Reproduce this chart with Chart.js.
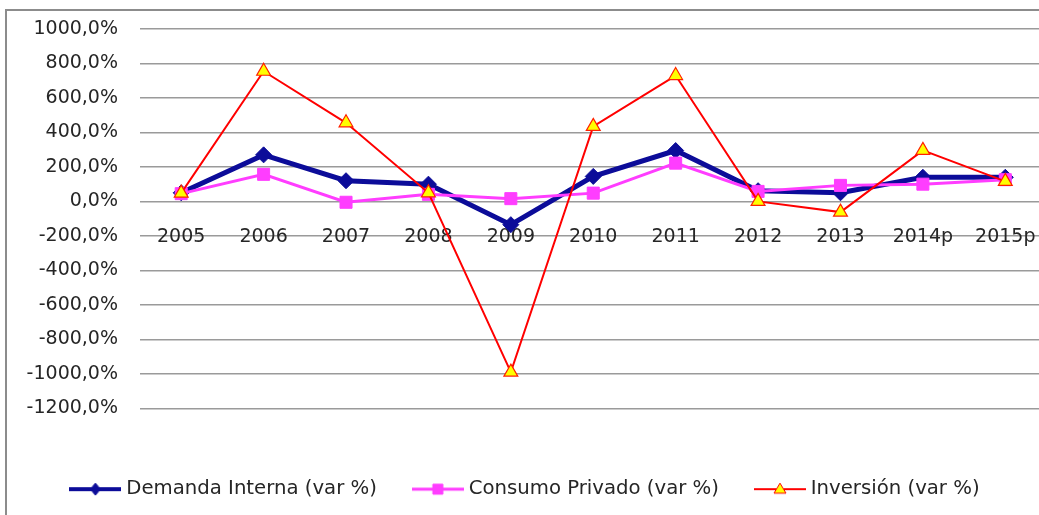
<!DOCTYPE html>
<html><head><meta charset="utf-8">
<script src="https://cdn.jsdelivr.net/npm/chart.js@4/dist/chart.umd.min.js"></script>
<style>
html,body{margin:0;padding:0;background:#fff;overflow:hidden;}
#wrap{position:relative;width:1056px;height:515px;}
canvas{display:block;}
</style></head><body>
<div id="wrap"><canvas id="c" width="1056" height="515" style="width:1056px;height:515px;"></canvas></div>
<script>
const categories = ['2005','2006','2007','2008','2009','2010','2011','2012','2013','2014p','2015p'];
const demandaInterna = [50, 270, 120, 100, -135, 145, 295, 62, 50, 140, 140];
const consumoPrivado = [45, 157, -5, 41, 16, 48, 222, 58, 93, 100, 126];
const inversion = [48, 755, 456, 50, -990, 435, 730, 0, -62, 296, 116];
const seriesNames = ['Demanda Interna (var %)', 'Consumo Privado (var %)', 'Inversión (var %)'];
const yMin = -1200, yMax = 1000, yStep = 200;

const FONT = 'DejaVu Sans';
const TEXT = '#262626';

function legendIcon(kind, lineColor, lineW, fill, stroke) {
  const c = document.createElement('canvas');
  c.width = 52; c.height = 20;
  const g = c.getContext('2d');
  g.strokeStyle = lineColor; g.lineWidth = lineW;
  g.beginPath(); g.moveTo(0, 10); g.lineTo(52, 10); g.stroke();
  g.fillStyle = fill; g.strokeStyle = stroke; g.lineWidth = 1;
  g.beginPath();
  if (kind === 'diamond') { g.moveTo(26, 4); g.lineTo(31, 10); g.lineTo(26, 16); g.lineTo(21, 10); g.closePath(); }
  else if (kind === 'square') { g.rect(21, 5, 10, 10); }
  else { g.moveTo(26, 4); g.lineTo(32, 14); g.lineTo(20, 14); g.closePath(); }
  g.fill(); g.stroke();
  return c;
}
const icons = [
  legendIcon('diamond', '#0c0c99', 4, '#0c0c99', '#0c0c99'),
  legendIcon('square', '#ff3dff', 3, '#ff3dff', '#ff3dff'),
  legendIcon('triangle', '#ff0000', 2, '#ffff00', '#ff0000')
];

const frame = {
  id: 'frame',
  beforeDraw(chart) {
    const ctx = chart.ctx;
    ctx.save();
    ctx.fillStyle = '#fff';
    ctx.fillRect(0, 0, chart.width, chart.height);
    ctx.strokeStyle = '#8c8c8c';
    ctx.lineWidth = 2;
    ctx.beginPath();
    ctx.moveTo(6, chart.height + 5);
    ctx.lineTo(6, 10);
    ctx.lineTo(chart.width + 5, 10);
    ctx.stroke();
    ctx.restore();
  }
};

const clear = 'rgba(0,0,0,0)';

new Chart(document.getElementById('c'), {
  type: 'line',
  data: {
    labels: categories,
    datasets: [
      { label: seriesNames[0], data: demandaInterna, borderColor: '#0c0c99', backgroundColor: '#0c0c99',
        borderWidth: 5, pointStyle: 'rectRot', pointRadius: 8, pointBorderWidth: 1,
        pointBackgroundColor: '#0c0c99', pointBorderColor: '#0c0c99', tension: 0, order: 2 },
      { label: seriesNames[1], data: consumoPrivado, borderColor: '#ff3dff', backgroundColor: '#ff3dff',
        borderWidth: 3, pointStyle: 'rect', pointRadius: 8.5, pointBorderWidth: 1,
        pointBackgroundColor: '#ff3dff', pointBorderColor: '#ff3dff', tension: 0, order: 1 },
      { label: seriesNames[2], data: inversion, borderColor: '#ff0000', backgroundColor: '#ffff00',
        borderWidth: 2, pointStyle: 'triangle', pointRadius: 8, pointBorderWidth: 1.2,
        pointBackgroundColor: '#ffff00', pointBorderColor: '#ff2000', tension: 0, order: 0 }
    ]
  },
  options: {
    responsive: false,
    animation: false,
    devicePixelRatio: 1,
    layout: { padding: { left: 0, top: 29, right: 2, bottom: 6 } },
    scales: {
      x: {
        position: { y: 0 },
        offset: true,
        grid: { display: true, drawOnChartArea: false, drawTicks: true, tickLength: 24, tickColor: clear, color: clear },
        border: { display: false },
        ticks: { color: TEXT, font: { family: FONT, size: 19 }, padding: 0, maxRotation: 0, autoSkip: false }
      },
      gap: {
        type: 'category', position: 'bottom', display: true,
        grid: { display: false, drawTicks: false }, border: { display: false },
        ticks: { display: false, padding: 0 },
        afterFit(s) { s.height = 31; }
      },
      y: {
        min: yMin, max: yMax,
        grid: { color: '#9a9a9a', lineWidth: 1.5, drawTicks: true, tickLength: 22, tickColor: clear },
        border: { display: false },
        ticks: {
          stepSize: yStep, color: TEXT, padding: 0,
          font: { family: FONT, size: 19 },
          callback: (v) => v.toFixed(1).replace('.', ',') + '%'
        },
        afterFit(s) { s.width = 140; }
      }
    },
    plugins: {
      tooltip: { enabled: false },
      legend: {
        position: 'bottom',
        labels: {
          usePointStyle: true,
          pointStyleWidth: 42,
          padding: 40,
          color: TEXT,
          font: { family: FONT, size: 19.7 },
          generateLabels: (chart) => chart.data.datasets.map((ds, i) => ({
            text: ds.label, pointStyle: icons[i], fillStyle: 'transparent',
            strokeStyle: 'transparent', lineWidth: 0, hidden: false, datasetIndex: i, fontColor: TEXT
          }))
        }
      }
    }
  },
  plugins: [frame]
});
</script>
</body></html>
